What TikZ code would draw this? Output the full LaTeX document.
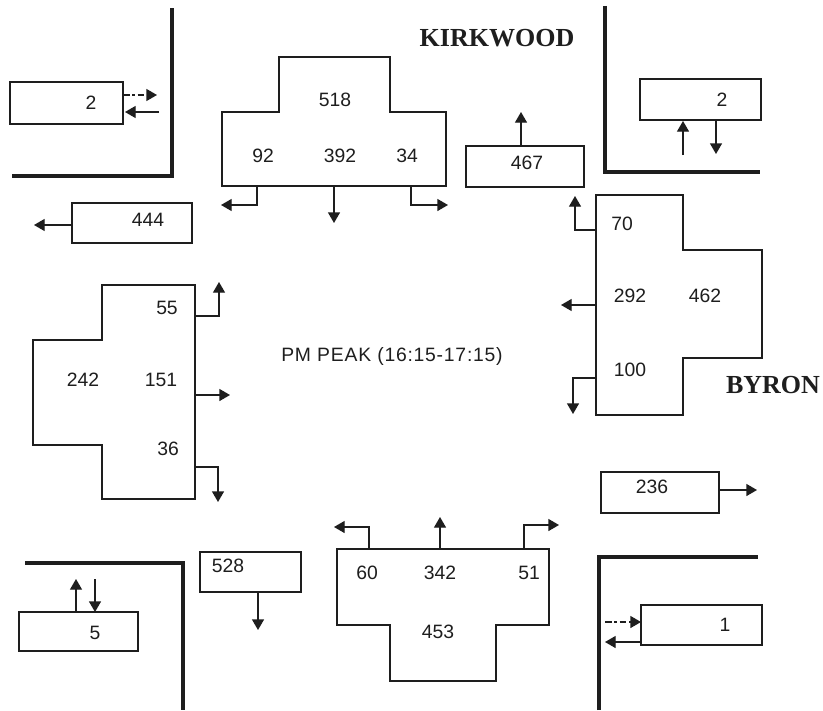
\documentclass[tikz,border=0pt]{standalone}
\usepackage{fontspec}
\setmainfont{Liberation Sans}
\newfontfamily\streetfont{Liberation Serif}
\usetikzlibrary{arrows.meta}
\definecolor{ink}{HTML}{1E1E1E}
\tikzset{
  box/.style={draw=ink, line width=1pt},
  wall/.style={draw=ink, line width=2.6pt},
  flow/.style={draw=ink, line width=1pt, -{Triangle[length=8pt,width=9pt]}},
  dflow/.style={flow, dash pattern=on 5pt off 2pt on 2pt off 2pt},
  num/.style={font=\fontsize{14.5}{17}\selectfont, text=ink, inner sep=0pt},
  street/.style={font=\streetfont\bfseries\fontsize{19.5}{22}\selectfont, text=ink, inner sep=0pt},
  title/.style={font=\fontsize{14.5}{17}\selectfont\addfontfeature{LetterSpace=4}, text=ink, inner sep=0pt},
}
\begin{document}
\begin{tikzpicture}[x=0.75pt,y=-0.75pt]
\fill[white] (0,0) rectangle (823,710);
\useasboundingbox (0,0) rectangle (823,710);

% street names and title
\node[street] (kirk) at (497,38) {KIRKWOOD};
\node[street] (byron) at (773,385) {BYRON};
\node[title] (peak) at (392,356) {PM PEAK (16:15-17:15)};

% corner walls
\draw[wall] (12,176) -- (172,176) -- (172,8);
\draw[wall] (605,6) -- (605,172) -- (760,172);
\draw[wall] (25,563) -- (183,563) -- (183,710);
\draw[wall] (599,710) -- (599,557) -- (758,557);

% top-left pedestrian box
\draw[box] (10,82) rectangle (123,124);
\node[num] (tlp) at (91,103) {2};
\draw[dflow] (123,95) -- (157,95);
\draw[flow] (159,112) -- (125,112);

% top-right pedestrian box
\draw[box] (640,79) rectangle (761,120);
\node[num] (trp) at (722,100) {2};
\draw[flow] (683,155) -- (683,121);
\draw[flow] (716,120) -- (716,154);

% bottom-left pedestrian box
\draw[box] (19,612) rectangle (138,651);
\node[num] (blp) at (95,633) {5};
\draw[flow] (76,612) -- (76,579);
\draw[flow] (95,579) -- (95,612);

% bottom-right pedestrian box
\draw[box] (641,605) rectangle (762,645);
\node[num] (brp) at (725,625) {1};
\draw[dflow] (605,622) -- (641,622);
\draw[flow] (641,642) -- (605,642);

% Kirkwood north approach (southbound)
\draw[box] (279,57) -- (390,57) -- (390,112) -- (446,112) -- (446,186) -- (222,186) -- (222,112) -- (279,112) -- cycle;
\node[num] (n518) at (335,100) {518};
\node[num] (n92) at (263,156) {92};
\node[num] (n392) at (340,156) {392};
\node[num] (n34) at (407,156) {34};
\draw[flow] (257,186) -- (257,205) -- (221,205);
\draw[flow] (334,186) -- (334,223);
\draw[flow] (411,186) -- (411,205) -- (448,205);

% Kirkwood north exit
\draw[box] (466,146) rectangle (584,187);
\node[num] (n467) at (527,163) {467};
\draw[flow] (521,146) -- (521,112);

% Byron west exit
\draw[box] (72,203) rectangle (192,243);
\node[num] (n444) at (148,220) {444};
\draw[flow] (72,225) -- (34,225);

% Byron east approach (westbound)
\draw[box] (596,195) -- (683,195) -- (683,250) -- (762,250) -- (762,358) -- (683,358) -- (683,415) -- (596,415) -- cycle;
\node[num] (n70) at (622,224) {70};
\node[num] (n292) at (630,296) {292};
\node[num] (n462) at (705,296) {462};
\node[num] (n100) at (630,370) {100};
\draw[flow] (596,230) -- (575,230) -- (575,196);
\draw[flow] (596,305) -- (561,305);
\draw[flow] (596,378) -- (573,378) -- (573,414);

% Byron west approach (eastbound)
\draw[box] (102,285) -- (195,285) -- (195,499) -- (102,499) -- (102,445) -- (33,445) -- (33,340) -- (102,340) -- cycle;
\node[num] (n55) at (167,308) {55};
\node[num] (n242) at (83,380) {242};
\node[num] (n151) at (161,380) {151};
\node[num] (n36) at (168,449) {36};
\draw[flow] (195,316) -- (219,316) -- (219,282);
\draw[flow] (195,395) -- (230,395);
\draw[flow] (195,467) -- (218,467) -- (218,502);

% Kirkwood south exit
\draw[box] (200,552) rectangle (301,592);
\node[num] (n528) at (228,566) {528};
\draw[flow] (258,592) -- (258,630);

% Kirkwood south approach (northbound)
\draw[box] (337,549) -- (549,549) -- (549,625) -- (496,625) -- (496,681) -- (390,681) -- (390,625) -- (337,625) -- cycle;
\node[num] (n60) at (367,573) {60};
\node[num] (n342) at (440,573) {342};
\node[num] (n51) at (529,573) {51};
\node[num] (n453) at (438,632) {453};
\draw[flow] (369,549) -- (369,527) -- (334,527);
\draw[flow] (440,549) -- (440,517);
\draw[flow] (524,549) -- (524,525) -- (559,525);

% Byron east exit
\draw[box] (601,472) rectangle (719,513);
\node[num] (n236) at (652,487) {236};
\draw[flow] (719,490) -- (757,490);
\end{tikzpicture}
\end{document}
